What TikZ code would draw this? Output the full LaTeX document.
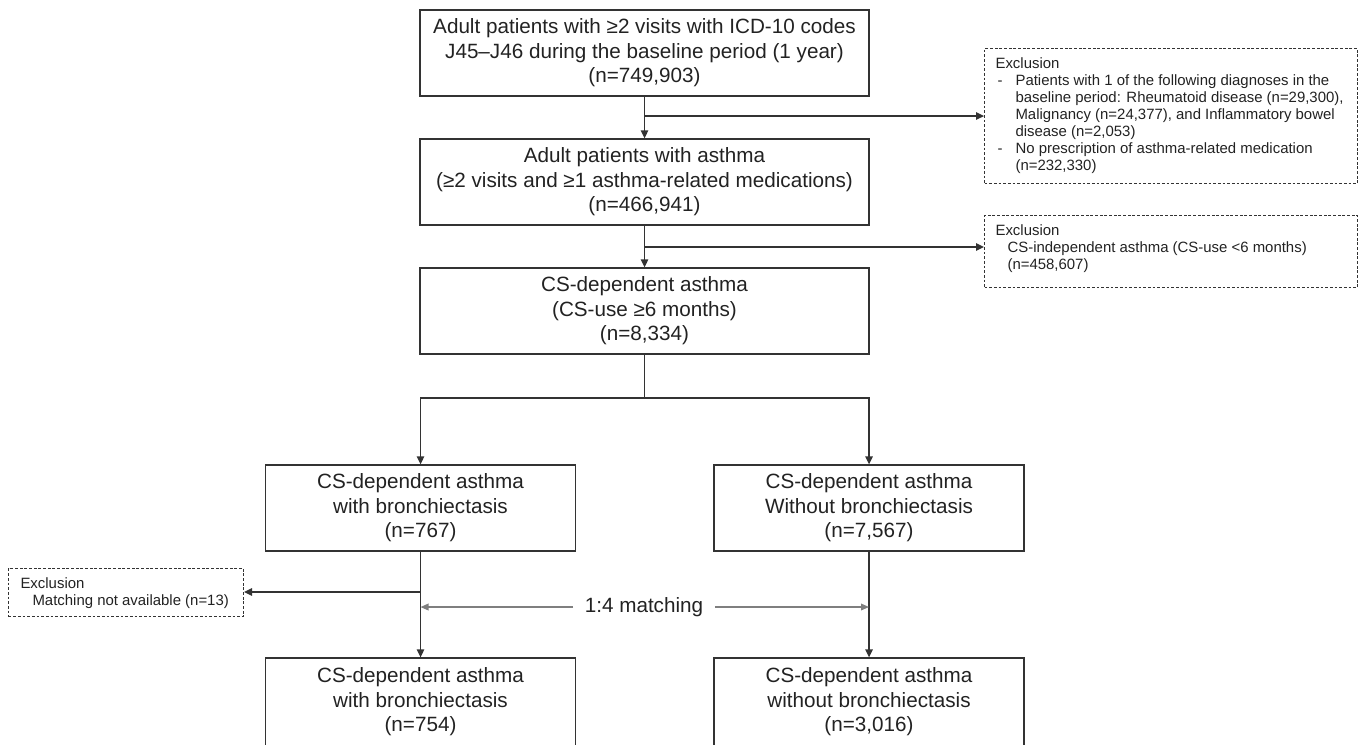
\documentclass[tikz,border=0pt]{standalone}
\usepackage{fontspec}
\setmainfont{Liberation Sans}
\usetikzlibrary{arrows.meta}
\definecolor{linec}{HTML}{333333}
\definecolor{txtc}{HTML}{222222}
\definecolor{matchc}{HTML}{7F7F7F}
\newcommand{\exclfont}{\fontsize{11.2}{12.75}\selectfont}
\newcommand{\exclpar}[4]{\parbox[c][#2][t]{#1}{\exclfont\raggedright\vspace*{7pt}\leftskip=#3 #4\par}}
\begin{document}
\begin{tikzpicture}[x=0.75pt,y=-0.75pt,
  mainbox/.style={draw=linec, line width=1pt, text=txtc, align=center,
    minimum width=336.75pt, minimum height=64.5pt, inner sep=0pt,
    font=\fontsize{15.5}{18.4}\selectfont},
  subbox/.style={mainbox, minimum width=232.5pt},
  exclbox/.style={draw=linec, line width=0.8pt, dash pattern=on 2.2pt off 1.3pt,
    text=txtc, inner sep=0pt},
  conn/.style={draw=linec, line width=1.05pt},
  arr/.style={conn, -{Triangle[length=6pt,width=5.6pt]}},
  garr/.style={draw=matchc, line width=1pt, -{Triangle[length=6pt,width=5pt]}}
]
\useasboundingbox (0,0) rectangle (1362,744);

% main boxes
\node[mainbox] (b1) at (644.5,53) {Adult patients with ≥2 visits with ICD-10 codes\\J45–J46 during the baseline period (1 year)\\(n=749,903)};
\node[mainbox] (b2) at (644.5,182) {Adult patients with asthma\\(≥2 visits and ≥1 asthma-related medications)\\(n=466,941)};
\node[mainbox] (b3) at (644.5,311) {CS-dependent asthma\\(CS-use ≥6 months)\\(n=8,334)};
\node[subbox] (b4) at (420.5,508) {CS-dependent asthma\\with bronchiectasis\\(n=767)};
\node[subbox] (b5) at (869,508) {CS-dependent asthma\\Without bronchiectasis\\(n=7,567)};
\node[subbox, minimum height=66pt] (b6) at (420.5,702) {CS-dependent asthma\\with bronchiectasis\\(n=754)};
\node[subbox, minimum height=66pt] (b7) at (869,702) {CS-dependent asthma\\without bronchiectasis\\(n=3,016)};

% exclusion boxes
\node[exclbox, anchor=north west] (ex1) at (984,48) {\exclpar{279.75pt}{101.25pt}{8.25pt}{Exclusion\\
\makebox[15pt][l]{\hspace{1.5pt}-}Patients with 1 of the following diagnoses in the\\
\hspace*{15pt}baseline period: Rheumatoid disease (n=29,300),\\
\hspace*{15pt}Malignancy (n=24,377), and Inflammatory bowel\\
\hspace*{15pt}disease (n=2,053)\\
\makebox[15pt][l]{\hspace{1.5pt}-}No prescription of asthma-related medication\\
\hspace*{15pt}(n=232,330)}};
\node[exclbox, anchor=north west] (ex2) at (984,215) {\exclpar{279.75pt}{54pt}{8.25pt}{Exclusion\\
\hspace*{9pt}CS-independent asthma (CS-use <6 months)\\
\hspace*{9pt}(n=458,607)}};
\node[exclbox, anchor=north west] (ex3) at (8,568) {\exclpar{176.25pt}{36pt}{9pt}{Exclusion\\
\hspace*{9pt}Matching not available (n=13)}};

% matching label
\node[font=\fontsize{15.5}{18.4}\selectfont, text=txtc, inner xsep=8.5pt, inner ysep=0pt] (match) at (644,607) {1:4 matching};

% connectors
\coordinate (br2) at (644.5,247);
\coordinate (split) at (644.5,398);
\coordinate (br3) at (420.5,592);

\draw[arr] (b1.south) -- (b2.north);
\draw[arr] (b1.south |- ex1.west) -- (ex1.west);
\draw[arr] (b2.south) -- (b3.north);
\draw[arr] (br2) -- (br2 -| ex2.west);
\draw[conn] (b3.south) -- (split);
\draw[arr] (split) -| (b4.north);
\draw[arr] (split) -| (b5.north);
\draw[arr] (b4.south) -- (b6.north);
\draw[arr] (b5.south) -- (b7.north);
\draw[arr] (br3) -- (br3 -| ex3.east);
\draw[garr] (match.west) -- (match.west -| b4.south);
\draw[garr] (match.east) -- (match.east -| b5.south);
\end{tikzpicture}
\end{document}
